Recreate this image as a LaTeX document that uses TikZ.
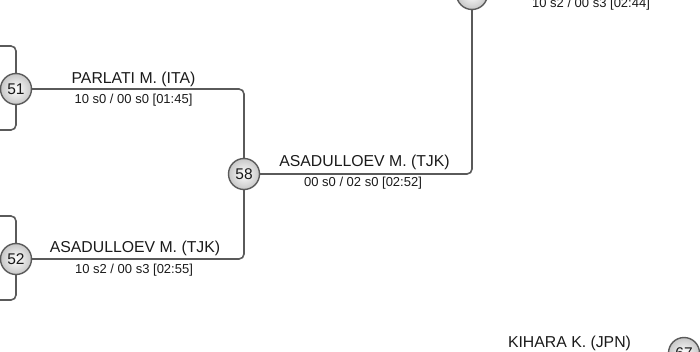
\documentclass[tikz,border=0pt]{standalone}
\usepackage{fontspec}
\setmainfont{Liberation Sans}
\usetikzlibrary{calc}
\definecolor{linegray}{HTML}{5A5A5A}
\definecolor{txt}{HTML}{1A1A1A}
\tikzset{
  matchnode/.style={circle, draw=linegray, line width=1.4pt, minimum size=31pt, inner sep=0pt,
    inner color=white, outer color=black!22, font=\fontsize{15.5}{16}\selectfont, text=txt},
  conn/.style={draw=linegray, line width=1.6pt, rounded corners=5pt},
  namelbl/.style={anchor=base, inner sep=0pt, font=\fontsize{15.8}{16}\selectfont, text=txt},
  scorelbl/.style={anchor=base, inner sep=0pt, font=\fontsize{13}{14}\selectfont, text=txt}
}
\begin{document}
\begin{tikzpicture}[x=1pt,y=-1pt]
\useasboundingbox (0,0) rectangle (700,351);
\clip (0,0) rectangle (700,351);
% match nodes
\node[matchnode] (n51) at (16,89) {51};
\node[matchnode] (n52) at (16,259) {52};
\node[matchnode] (n58) at (244,174) {58};
\node[matchnode] (ntop) at (472,-6) {};
\node[matchnode] (n67) at (684,353) {67};
% feeder brackets
\coordinate (b51t) at (-20,46);
\coordinate (b51b) at (-20,130);
\coordinate (b52t) at (-20,216);
\coordinate (b52b) at (-20,300);
\draw[conn] (b51t) -- (b51t -| n51.north) -- (n51.north);
\draw[conn] (n51.south) -- (b51b -| n51.south) -- (b51b);
\draw[conn] (b52t) -- (b52t -| n52.north) -- (n52.north);
\draw[conn] (n52.south) -- (b52b -| n52.south) -- (b52b);
% connectors
\draw[conn] (n51.east) -- (n51.east -| n58.north) -- (n58.north);
\draw[conn] (n52.east) -- (n52.east -| n58.south) -- (n58.south);
\draw[conn] (n58.east) -- (n58.east -| ntop.south) -- (ntop.south);
% labels
\node[namelbl] (l51) at (133.5,83) {PARLATI M. (ITA)};
\node[scorelbl] (s51) at (133.5,103.3) {10 s0 / 00 s0 [01:45]};
\node[namelbl] (l52) at (135,252.5) {ASADULLOEV M. (TJK)};
\node[scorelbl] (s52) at (134,273.3) {10 s2 / 00 s3 [02:55]};
\node[namelbl] (l58) at (364.5,166.7) {ASADULLOEV M. (TJK)};
\node[scorelbl] (s58) at (363,186.7) {00 s0 / 02 s0 [02:52]};
\node[scorelbl] (stop) at (591,7.5) {10 s2 / 00 s3 [02:44]};
\node[namelbl] (l67) at (569.5,347) {KIHARA K. (JPN)};
\end{tikzpicture}
\end{document}
